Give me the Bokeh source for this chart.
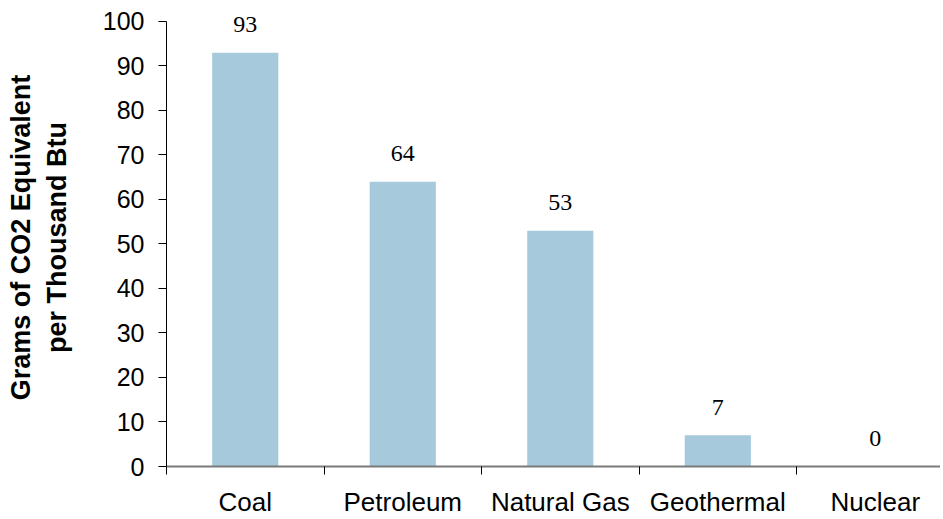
from bokeh.plotting import figure
from bokeh.models import Range1d, FixedTicker, ColumnDataSource
from bokeh.core.properties import value
from bokeh.embed import file_html
from bokeh.resources import INLINE

categories = ["Coal", "Petroleum", "Natural Gas", "Geothermal", "Nuclear"]
values = [93, 64, 53, 7, 0]
value_labels = ["93", "64", "53", "7", "0"]
y_ticks = [0, 10, 20, 30, 40, 50, 60, 70, 80, 90, 100]

xpos = [i + 0.5 for i in range(len(categories))]
src = ColumnDataSource(dict(x=xpos, top=values, lab=value_labels))

p = figure(width=940, height=519, output_backend="svg", toolbar_location=None,
           x_range=Range1d(0, 4.914), y_range=Range1d(0, 102.92),
           min_border_left=166, min_border_right=0, min_border_top=8, min_border_bottom=53)
p.outline_line_color = None
p.xgrid.visible = False
p.ygrid.visible = False

p.vbar(x="x", top="top", width=0.42, bottom=0, source=src,
       fill_color="#a7c9dc", line_color=None)
p.text(x="x", y="top", text="lab", source=src, text_align="center", text_baseline="middle",
       y_offset=-28, text_font=value("Liberation Serif"), text_font_size="24px", text_color="#000000")

xa = p.xaxis[0]
xa.ticker = FixedTicker(ticks=xpos, minor_ticks=[0, 1, 2, 3, 4])
xa.major_label_overrides = {x: c for x, c in zip(xpos, categories)}
xa.major_tick_line_color = None
xa.major_tick_out = 0
xa.major_tick_in = 0
xa.minor_tick_out = 8
xa.minor_tick_in = 0
xa.minor_tick_line_color = "#000000"
xa.axis_line_color = "#7a7a7a"
xa.axis_line_width = 2
xa.major_label_text_font = "Liberation Sans"
xa.major_label_text_font_size = "26px"
xa.major_label_text_color = "#000000"
xa.major_label_standoff = 12

ya = p.yaxis[0]
ya.ticker = FixedTicker(ticks=y_ticks)
ya.bounds = (0, 100)
ya.minor_tick_line_color = None
ya.major_tick_out = 8
ya.major_tick_in = 0
ya.major_tick_line_color = "#000000"
ya.axis_line_color = "#000000"
ya.major_label_text_font = "Liberation Sans"
ya.major_label_text_font_size = "25px"
ya.major_label_text_color = "#000000"
ya.major_label_standoff = 14
ya.axis_label = "Grams of CO2 Equivalent\nper Thousand Btu"
ya.axis_label_text_font = "Liberation Sans"
ya.axis_label_text_font_style = "bold"
ya.axis_label_text_font_size = "27px"
ya.axis_label_text_color = "#000000"
ya.axis_label_standoff = 28

open("out.html", "w").write(file_html(p, INLINE))
